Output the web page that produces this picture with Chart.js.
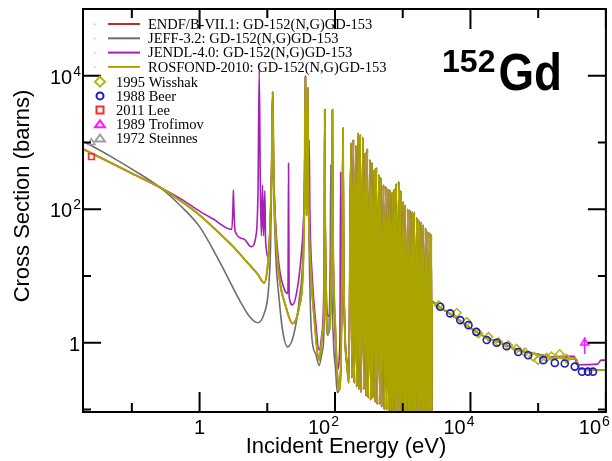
<!DOCTYPE html>
<html>
<head>
<meta charset="utf-8">
<script src="https://cdn.jsdelivr.net/npm/chart.js@4.4.1/dist/chart.umd.min.js"></script>
<style>
  html, body { margin: 0; padding: 0; background: #fff; }
</style>
</head>
<body>
<canvas id="gd152" width="612" height="461"></canvas>
<script>
// Evaluated libraries, thermal + resolved region (eV, barns)
const rosfondLowE = [0.019, 0.05, 0.1, 0.258, 0.5, 1, 2, 3.2, 4.86, 7.2, 9.0, 10.1, 10.9, 11.6, 12.0, 12.4, 13.3, 15.0, 18.8, 23.6, 29.6, 33.8, 35.6, 36.5, 37.4, 38.0, 39.5, 40.5, 43.7, 49.2, 58.2, 65.5, 69.3, 70.0, 70.6, 71.3, 79.8, 90.3, 91.5, 92.7, 96.4, 101.9, 108, 114, 122, 128, 131, 134, 140, 151, 160];
const rosfondLowS = [800, 493, 345, 214, 138, 82, 43, 27, 16.8, 10.7, 7.9, 13.8, 43.6, 400, 5800, 400, 43.6, 9.7, 3.47, 1.95, 3.47, 13.8, 300, 9300, 250, 80, 6500, 200, 13.8, 2.45, 0.55, 1.38, 4.4, 100, 3100, 100, 1.4, 100, 3100, 100, 6.9, 1.38, 0.35, 0.195, 0.44, 20, 1640, 20, 1.38, 0.44, 0.25];

const jeffLowE = [0.019, 0.05, 0.1, 0.258, 0.5, 1, 2, 3.87, 5.5, 7.2, 9.0, 10.4, 11.2, 11.6, 12.0, 12.4, 13.3, 15.0, 16.8, 19.9, 24.8, 29.6, 33.8, 35.6, 36.5, 37.4, 38.0, 39.5, 40.5, 45.0, 51.7, 58.2, 65.5, 69.3, 70.0, 70.6, 71.3, 78, 85, 86.7, 88.5, 95, 101.9, 108, 122, 128, 131, 134, 140, 151, 160];
const jeffLowS = [1050, 610, 400, 214, 118, 55, 16, 4.4, 2.45, 2.0, 2.76, 6.2, 30, 300, 5800, 300, 22, 4.4, 1.55, 0.87, 1.38, 4.4, 24.5, 300, 9300, 250, 80, 6500, 200, 1.38, 0.69, 0.46, 0.78, 2.45, 100, 3100, 100, 1.3, 20, 460, 20, 1.0, 0.4, 0.18, 0.4, 20, 1640, 20, 1.38, 0.44, 0.25];

const jendlLowE = [0.019, 0.1, 0.258, 0.5, 1, 1.57, 3.0, 3.12, 3.16, 3.2, 3.35, 4.5, 5.76, 6.8, 7.3, 7.6, 7.9, 8.2, 8.5, 8.8, 9.2, 9.4, 9.7, 10.1, 10.9, 11.6, 12.0, 12.4, 13.3, 15.0, 18.0, 20.2, 20.6, 21.0, 23.6, 27, 31, 34, 35.6, 36.5, 37.4, 38.0, 39.5, 40.5, 41.5, 42.5, 46, 52, 58, 63, 68, 70.0, 70.6, 71.3, 80, 90.3, 91.5, 92.7, 100, 108, 118, 121, 124, 128, 131, 134, 140, 151, 160];
const jendlLowS = [800, 345, 214, 148, 94, 72, 50, 120, 194, 120, 47, 36, 27.5, 40, 200, 12000, 200, 40, 230, 40, 190, 40, 25, 19.5, 43.6, 400, 5800, 400, 60, 13.8, 6.2, 5.5, 490, 5.0, 3.7, 5.5, 16, 60, 300, 9900, 300, 100, 6500, 300, 1090, 100, 10, 2, 0.78, 1.2, 5, 100, 3100, 100, 2.5, 100, 3100, 100, 1.5, 0.4, 1.0, 365, 1.0, 20, 1640, 20, 1.5, 0.5, 0.3];

// dense resonance block, peak / trough pairs
const blockE = [172, 178, 187, 193, 203, 209, 220, 226, 235, 242, 258, 265, 280, 288, 300, 309, 328, 336, 352, 360, 380, 392, 408, 418, 444, 456, 475, 488, 520, 533, 560, 575, 605, 620, 648, 665, 698, 715, 750, 770, 800, 820, 873, 895, 935, 955, 1015, 1040, 1085, 1110, 1185, 1210, 1270, 1300, 1380, 1410, 1480, 1510, 1610, 1650, 1720, 1760, 1870, 1910, 2000, 2040, 2180, 2230, 2330, 2380, 2520, 2570, 2640, 2680];
const blockS = [980, 0.3, 1100, 0.25, 900, 0.22, 1380, 0.2, 1300, 0.18, 1200, 0.2, 700, 0.16, 800, 0.15, 550, 0.14, 500, 0.15, 390, 0.13, 420, 0.12, 330, 0.12, 300, 0.11, 230, 0.1, 220, 0.1, 200, 0.09, 195, 0.05, 180, 0.04, 200, 0.04, 240, 0.03, 260, 0.03, 190, 0.03, 130, 0.03, 115, 0.03, 100, 0.03, 97, 0.03, 92, 0.03, 90, 0.03, 75, 0.03, 69, 0.03, 64, 0.03, 58, 0.03, 52, 0.03, 46, 0.03, 44, 0.03, 41, 0.03];

// unresolved / fast region
const tailE = [2700, 3500, 5300, 10000, 16400, 30000, 50700, 100000, 157000, 200000, 340000, 370000, 410000, 1000000];
const tailS = [4.1, 3.43, 2.6, 1.66, 1.23, 0.97, 0.78, 0.67, 0.60, 0.59, 0.58, 0.55, 0.41, 0.39];
const jendlTailE = [2700, 3500, 5300, 10000, 16400, 30000, 50700, 100000, 150000, 250000, 340000, 380000, 750000, 850000, 1000000];
const jendlTailS = [4.1, 3.43, 2.6, 1.66, 1.23, 0.97, 0.78, 0.68, 0.62, 0.63, 0.63, 0.47, 0.48, 0.55, 0.55];

// measurements
const wisshakE = [3390, 6290, 8830, 13100, 18400, 25800, 36200, 48000, 63700, 84400, 100000, 133000, 157000, 208000, 261000];
const wisshakS = [3.67, 2.82, 2.06, 1.38, 1.23, 1.03, 0.92, 0.82, 0.72, 0.62, 0.55, 0.60, 0.63, 0.68, 0.58];
const beerE = [3580, 5030, 7060, 9350, 12200, 17400, 24400, 34200, 50800, 71300, 119000, 176000, 247000, 347000, 444000, 544000, 644000];
const beerS = [3.47, 2.76, 2.19, 1.84, 1.46, 1.10, 1.0, 0.89, 0.73, 0.65, 0.55, 0.50, 0.49, 0.44, 0.37, 0.37, 0.37];
const leeE = [0.0253];
const leeS = [615];
const trofimovE = [486000];
const trofimovS = [1.0];
const trofimovErr = [0.68, 1.2];
const steinnesE = [0.0253];
const steinnesS = [1000];

// axes
const xMajorTicks = [1, 100, 10000, 1000000];
const xMinorTicks = [0.1, 10, 1000, 100000];
const yMajorTicks = [1, 100, 10000];
const yMinorTicks = [0.1, 10, 1000];
const xTickLabels = ['1', '10^2', '10^4', '10^6'];
const yTickLabels = ['1', '10^2', '10^4'];

const RED = '#b8312f', GRAY = '#6e6e6e', PURPLE = '#a51fb5', OLIVE = '#aaa500';
const SANS = '"Liberation Sans", Arial, sans-serif';
const SERIF = '"Liberation Serif", "Times New Roman", serif';

const pts = (xs, ys) => xs.map((v, i) => ({ x: v, y: ys[i] }));
const curve = (label, color, data, w) => ({
    label, data, borderColor: color, borderWidth: w, pointRadius: 0,
    showLine: true, fill: false, cubicInterpolationMode: 'monotone'
});
const marks = (label, color, style, r, data) => ({
    label, data, borderColor: color, backgroundColor: 'rgba(0,0,0,0)',
    pointStyle: style, pointRadius: r, borderWidth: 1.6, showLine: false
});

const legendLines = [
    ['ENDF/B-VII.1: GD-152(N,G)GD-153', RED],
    ['JEFF-3.2: GD-152(N,G)GD-153', GRAY],
    ['JENDL-4.0: GD-152(N,G)GD-153', PURPLE],
    ['ROSFOND-2010: GD-152(N,G)GD-153', OLIVE]
];
const legendMarks = [
    ['1995 Wisshak', '#b5b51a', 'diamond'],
    ['1988 Beer', '#1a1acc', 'circle'],
    ['2011 Lee', '#ff2a2a', 'square'],
    ['1989 Trofimov', '#ff1aff', 'triangle'],
    ['1972 Steinnes', '#a0a0a0', 'triangle']
];

function drawMarker(ctx, kind, cx, cy, color) {
    ctx.strokeStyle = color;
    ctx.lineWidth = 2;
    ctx.beginPath();
    if (kind === 'diamond') {
        ctx.moveTo(cx, cy - 5); ctx.lineTo(cx + 5, cy); ctx.lineTo(cx, cy + 5); ctx.lineTo(cx - 5, cy); ctx.closePath();
    } else if (kind === 'circle') {
        ctx.arc(cx, cy, 3.5, 0, Math.PI * 2);
    } else if (kind === 'square') {
        ctx.rect(cx - 3.5, cy - 3.5, 7, 7);
    } else {
        ctx.moveTo(cx, cy - 4); ctx.lineTo(cx + 5, cy + 3); ctx.lineTo(cx - 5, cy + 3); ctx.closePath();
    }
    ctx.stroke();
}

function drawPow(ctx, txt, x, y, align) {
    const [base, exp] = txt.split('^');
    ctx.font = '20px ' + SANS;
    const wb = ctx.measureText(base).width;
    ctx.font = '14px ' + SANS;
    const we = exp ? ctx.measureText(exp).width : 0;
    let left = align === 'center' ? x - (wb + we) / 2 : x - wb - we;
    ctx.textAlign = 'left';
    ctx.textBaseline = 'alphabetic';
    ctx.font = '20px ' + SANS;
    ctx.fillText(base, left, y);
    if (exp) {
        ctx.font = '14px ' + SANS;
        ctx.fillText(exp, left + wb + 1, y - 8);
    }
}

const decor = {
    id: 'decor',
    afterDatasetsDraw(chart) {
        const { ctx, chartArea: a, scales: { x, y } } = chart;
        ctx.save();
        ctx.fillStyle = '#000';
        ctx.strokeStyle = '#000';
        ctx.lineWidth = 2;
        ctx.strokeRect(a.left, a.top, a.right - a.left, a.bottom - a.top);

        const tickX = (v, len) => {
            const p = x.getPixelForValue(v);
            ctx.beginPath();
            ctx.moveTo(p, a.bottom); ctx.lineTo(p, a.bottom - len);
            ctx.moveTo(p, a.top); ctx.lineTo(p, a.top + len);
            ctx.stroke();
        };
        const tickY = (v, len) => {
            const p = y.getPixelForValue(v);
            ctx.beginPath();
            ctx.moveTo(a.left, p); ctx.lineTo(a.left + len, p);
            ctx.moveTo(a.right, p); ctx.lineTo(a.right - len, p);
            ctx.stroke();
        };
        xMajorTicks.forEach(v => tickX(v, 20));
        xMinorTicks.forEach(v => tickX(v, 9));
        yMajorTicks.forEach(v => tickY(v, 18));
        yMinorTicks.forEach(v => tickY(v, 8));

        // tick labels
        xMajorTicks.forEach((v, i) => {
            const p = x.getPixelForValue(v);
            const t = xTickLabels[i];
            if (t.includes('^')) drawPow(ctx, t, p + 3, a.bottom + 22, 'right');
            else drawPow(ctx, t, p, a.bottom + 22, 'center');
        });
        yMajorTicks.forEach((v, i) => {
            const p = y.getPixelForValue(v);
            drawPow(ctx, yTickLabels[i], a.left - 3, p + 8, 'right');
        });

        // axis titles
        ctx.font = '22px ' + SANS;
        ctx.textAlign = 'center';
        ctx.textBaseline = 'middle';
        ctx.fillText('Incident Energy (eV)', 346, 447);
        ctx.save();
        ctx.translate(23, 196);
        ctx.rotate(-Math.PI / 2);
        ctx.fillText('Cross Section (barns)', 0, 0);
        ctx.restore();

        // legend
        ctx.font = '14.5px ' + SERIF;
        ctx.textAlign = 'left';
        ctx.textBaseline = 'middle';
        legendLines.forEach(([txt, col], i) => {
            const ry = 24 + i * 14.3;
            ctx.strokeStyle = col;
            ctx.lineWidth = 2;
            ctx.beginPath();
            ctx.moveTo(108, ry); ctx.lineTo(140, ry);
            ctx.stroke();
            ctx.fillStyle = '#e8b0c8';
            ctx.fillRect(94, ry - 0.5, 1.5, 1.5);
            ctx.fillStyle = '#000';
            ctx.fillText(txt, 148, ry + 1);
        });
        legendMarks.forEach(([txt, col, kind], i) => {
            const ry = 81.7 + i * 14.2;
            drawMarker(ctx, kind, 100, ry, col);
            ctx.fillStyle = '#000';
            ctx.fillText(txt, 116, ry + 1);
        });

        // isotope title
        ctx.textAlign = 'left';
        ctx.textBaseline = 'alphabetic';
        ctx.font = 'bold 52px ' + SANS;
        const wGd = ctx.measureText('Gd').width * 0.88;
        ctx.save();
        ctx.translate(562 - wGd, 90);
        ctx.scale(0.88, 1);
        ctx.fillText('Gd', 0, 0);
        ctx.restore();
        ctx.font = 'bold 32px ' + SANS;
        const w152 = ctx.measureText('152').width;
        ctx.fillText('152', 562 - wGd - w152 - 3, 72);
        ctx.restore();
    }
};

Chart.defaults.font.family = SANS;

new Chart(document.getElementById('gd152'), {
    type: 'scatter',
    data: {
        datasets: [
            marks('1989 Trofimov', '#ff1aff', 'triangle', 4.5, pts(trofimovE, trofimovS)),
            curve('1989 Trofimov err', '#ff1aff', pts([trofimovE[0], trofimovE[0]], trofimovErr), 1.5),
            marks('2011 Lee', '#ff2a2a', 'rect', 4, pts(leeE, leeS)),
            marks('1988 Beer', '#1a1acc', 'circle', 3.5, pts(beerE, beerS)),
            marks('1995 Wisshak', '#b5b51a', 'rectRot', 4.2, pts(wisshakE, wisshakS)),
            marks('1972 Steinnes', '#a0a0a0', 'triangle', 4, pts(steinnesE, steinnesS)),
            curve('ROSFOND-2010', OLIVE, pts(rosfondLowE.concat(blockE, tailE), rosfondLowS.concat(blockS, tailS)), 2),
            curve('JENDL-4.0', PURPLE, pts(jendlLowE.concat(blockE, jendlTailE), jendlLowS.concat(blockS, jendlTailS)), 1.6),
            curve('JEFF-3.2', GRAY, pts(jeffLowE.concat(blockE, tailE), jeffLowS.concat(blockS, tailS)), 1.6),
            curve('ENDF/B-VII.1', RED, pts(rosfondLowE.concat(blockE, tailE), rosfondLowS.concat(blockS, tailS)), 1.6)
        ]
    },
    options: {
        responsive: false,
        devicePixelRatio: 1,
        animation: false,
        layout: { padding: { top: 9, right: 5, left: 0, bottom: 0 } },
        plugins: { legend: { display: false }, tooltip: { enabled: false } },
        scales: {
            x: {
                type: 'logarithmic', min: 0.019, max: 1000000,
                ticks: { display: false }, grid: { display: false }, border: { display: false },
                afterFit: s => { s.height = 49; }
            },
            y: {
                type: 'logarithmic', min: 0.092, max: 100000,
                ticks: { display: false }, grid: { display: false }, border: { display: false },
                afterFit: s => { s.width = 83; }
            }
        }
    },
    plugins: [decor]
});
</script>
</body>
</html>
